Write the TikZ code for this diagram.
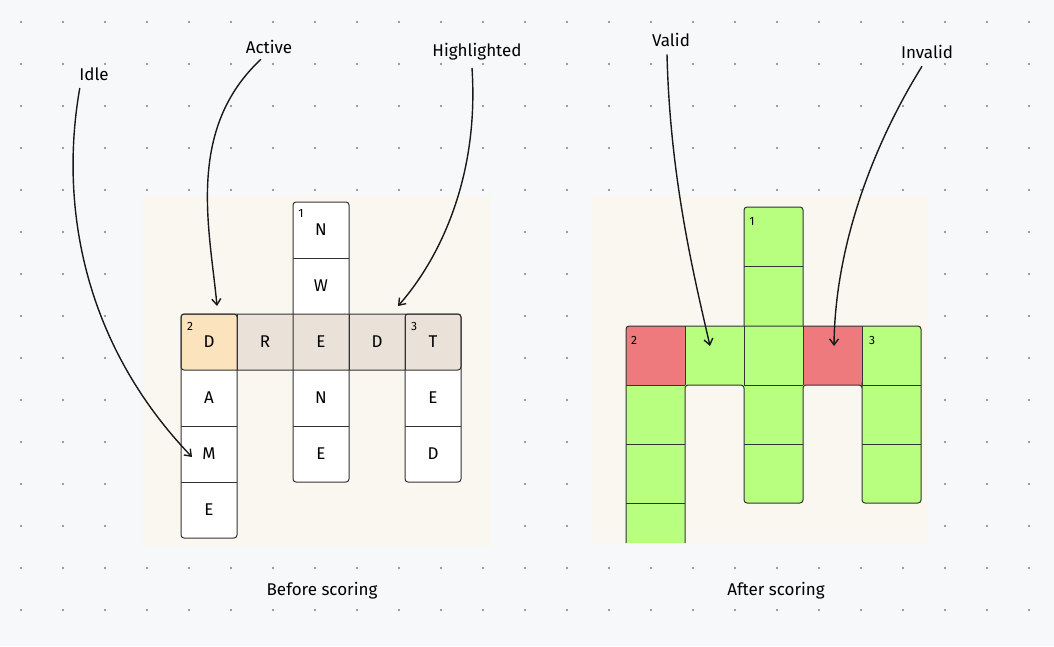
\documentclass[tikz,border=0pt]{standalone}
\usepackage{fontspec}
\setmainfont{Fira Sans}
\usetikzlibrary{arrows.meta}
\definecolor{pagebg}{HTML}{F7F8FA}
\definecolor{panel}{HTML}{FAF7F0}
\definecolor{hl}{HTML}{EAE2D9}
\definecolor{act}{HTML}{FAE3BD}
\definecolor{ok}{HTML}{B8FF80}
\definecolor{bad}{HTML}{EE7A7E}
\definecolor{ink}{HTML}{333333}
\tikzset{
 cell/.style={draw=ink,line width=1pt},
 lt/.style={font=\fontsize{17}{19}\selectfont,text=black},
 lab/.style={font=\fontsize{17}{19}\selectfont,text=black},
 num/.style={font=\fontsize{12}{13}\selectfont,text=black,inner sep=0pt},
 arr/.style={draw=black!90,line width=1.4pt,-{Straight Barb[length=6pt,width=9pt]}},
}
\begin{document}
\begin{tikzpicture}[x=1pt,y=-1pt]
\useasboundingbox (0,0) rectangle (1054,646);
\fill[pagebg] (0,0) rectangle (1054,646);
\foreach \i in {0,...,24}{\foreach \j in {0,...,15}{\fill[black!50] (21+42*\i,22+42*\j) circle (1.1pt);}}
% panels
\fill[panel] (143,195) rectangle (490,546);
\fill[panel] (592,195) rectangle (928,543);
% ---- left grid
\fill[white,rounded corners=3pt] (293,202) rectangle (349,482);
\fill[white,rounded corners=3pt] (181,314) rectangle (237,538);
\fill[white,rounded corners=3pt] (405,314) rectangle (461,482);
\fill[hl,rounded corners=3pt] (181,314) rectangle (461,370);
\fill[act,rounded corners=3pt] (181,314) rectangle (237,370);
\fill[act] (190,314) rectangle (237,370);
\draw[cell,rounded corners=3pt] (293,202) rectangle (349,482);
\draw[cell,rounded corners=3pt] (181,314) rectangle (237,538);
\draw[cell,rounded corners=3pt] (405,314) rectangle (461,482);
\draw[cell,rounded corners=3pt] (181,314) rectangle (461,370);
\draw[cell] (293,258)--(349,258) (293,426)--(349,426) (181,426)--(237,426) (181,482)--(237,482) (405,426)--(461,426) (237,314)--(237,370) (349,314)--(349,370) (405,314)--(405,370);
\foreach \t/\x/\y [count=\k] in {N/321/230,W/321/286,D/209/342,R/265/342,E/321/342,D/377/342,T/433/342,A/209/398,M/209/454,E/209/510,N/321/398,E/321/454,E/433/398,D/433/454}
 \node[lt] (L\k) at (\x,\y) {\t};
\node[num] (n1) at (301,213) {1};
\node[num] (n2) at (190,326) {2};
\node[num] (n3) at (414,326) {3};
% ---- right grid
\fill[ok] (626,326) rectangle (685,543);
\fill[ok,rounded corners=3pt] (744,207) rectangle (803,503);
\fill[ok,rounded corners=3pt] (862,326) rectangle (921,503);
\fill[ok,rounded corners=3pt] (626,326) rectangle (921,385);
\fill[bad,rounded corners=3pt] (626,326) rectangle (685,385);
\fill[bad] (635,326) rectangle (685,385);
\fill[bad] (626,336) rectangle (685,385);
\fill[bad] (803,326) rectangle (862,385);
\draw[cell,rounded corners=3pt] (626,543)--(626,326)--(921,326)--(921,503)--(862,503)--(862,385.01)--(862,385)--(803,385)--(803,503)--(744,503)--(744,385)--(685,385)--(685,543);
\draw[cell,rounded corners=3pt] (744,326)--(744,207)--(803,207)--(803,326);
\draw[cell] (744,266)--(803,266) (744,444)--(803,444) (862,444)--(921,444) (626,385)--(685,385) (626,444)--(685,444) (626,503)--(685,503) (862,385)--(921,385) (685,326)--(685,385) (744,326)--(744,385) (803,326)--(803,385) (862,326)--(862,385) (744,385)--(803,385);
\node[num] (m1) at (752,221) {1};
\node[num] (m2) at (634,340) {2};
\node[num] (m3) at (872,340) {3};
\coordinate (vt) at (710,346);
\coordinate (it) at (834,346);
% ---- labels
\node[lab] (idle) at (94,74) {Idle};
\node[lab] (active) at (269,47) {Active};
\node[lab] (high) at (477,52) {Highlighted};
\node[lab] (valid) at (671,40) {Valid};
\node[lab] (inv) at (927,52) {Invalid};
\node[lab] (before) at (322,591) {Before scoring};
\node[lab] (after) at (776,591) {After scoring};
\coordinate (mt) at (192,457);
\coordinate (at) at (217,306);
\coordinate (ht) at (398,306);
\draw[arr] (idle.south west)++(4,4) .. controls (60,200) and (80,340) .. (mt);
\draw[arr] (active.south)++(-8,2) .. controls (185,130) and (210,230) .. (at);
\draw[arr] (high.south)++(-5,4) .. controls (480,190) and (430,270) .. (ht);
\draw[arr] (valid.south)++(-4,4) .. controls (670,180) and (695,280) .. (vt);
\draw[arr] (inv.south)++(-5,4) .. controls (870,150) and (835,250) .. (it);
\end{tikzpicture}
\end{document}
